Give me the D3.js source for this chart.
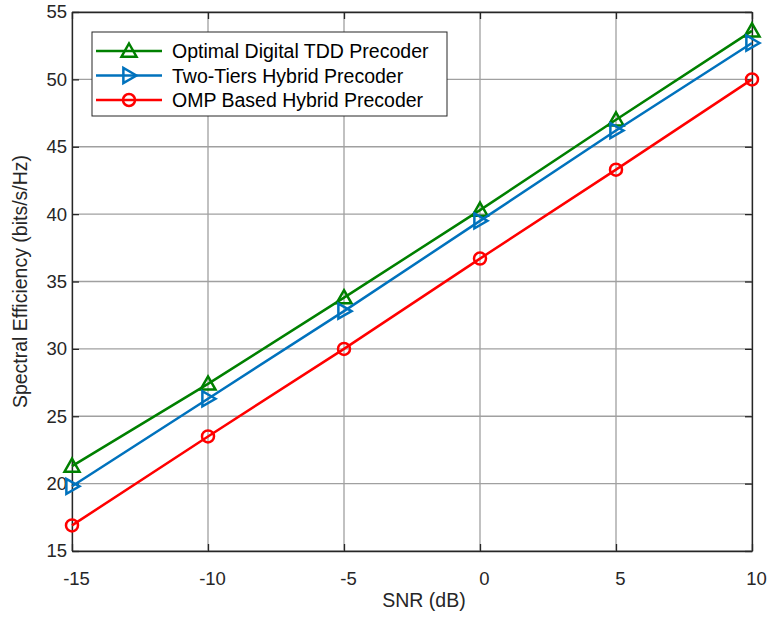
<!DOCTYPE html>
<html>
<head>
<meta charset="utf-8">
<script src="https://cdn.jsdelivr.net/npm/d3@7"></script>
<style>
  body { margin: 0; background: #fff; }
  text { font-family: "Liberation Sans", Arial, sans-serif; fill: #262626; }
</style>
</head>
<body>
<div id="chart"></div>
<script>
// SNR values (x) and spectral efficiency of each precoder
var snr = [-15, -10, -5, 0, 5, 10];
var optimalTdd = [21.3, 27.4, 33.8, 40.3, 47.0, 53.6];
var twoTiers   = [19.8, 26.3, 32.8, 39.5, 46.2, 52.7];
var ompHybrid  = [16.9, 23.5, 30.0, 36.7, 43.3, 50.0];

var xTicks = [-15, -10, -5, 0, 5, 10];
var yTicks = [15, 20, 25, 30, 35, 40, 45, 50, 55];

var seriesNames = ["Optimal Digital TDD Precoder", "Two-Tiers Hybrid Precoder", "OMP Based Hybrid Precoder"];
var seriesColors = ["#008000", "#0072BD", "#FF0000"];
var seriesMarkers = ["triangle", "right", "circle"];
var seriesValues = [optimalTdd, twoTiers, ompHybrid];

var width = 770, height = 619;
var margin = { left: 72, right: 18, top: 12, bottom: 68 };

var svg = d3.select("#chart").append("svg")
    .attr("width", width).attr("height", height);

var xScale = d3.scaleLinear().domain([-15, 10])
    .range([margin.left, width - margin.right]);
var yScale = d3.scaleLinear().domain([15, 55])
    .range([height - margin.bottom, margin.top]);

// grid lines
svg.append("g").selectAll("line.vgrid")
    .data(xTicks).enter().append("line")
    .attr("x1", function(d) { return xScale(d); })
    .attr("x2", function(d) { return xScale(d); })
    .attr("y1", yScale(15)).attr("y2", yScale(55))
    .attr("stroke", "#a0a0a0").attr("stroke-width", 1.3);
svg.append("g").selectAll("line.hgrid")
    .data(yTicks).enter().append("line")
    .attr("y1", function(d) { return yScale(d); })
    .attr("y2", function(d) { return yScale(d); })
    .attr("x1", xScale(-15)).attr("x2", xScale(10))
    .attr("stroke", "#a0a0a0").attr("stroke-width", 1.3);

// plain hyphen for negatives, like the original figure
var fmt = function(d) { return String(d); };

// axes (inner ticks on all four sides)
var tickLen = 7;
svg.append("g")
    .attr("transform", "translate(0," + yScale(15) + ")")
    .call(d3.axisBottom(xScale).tickValues(xTicks).tickFormat(fmt)
          .tickSizeInner(-tickLen).tickSizeOuter(0).tickPadding(21))
    .call(styleAxis)
    .selectAll(".tick text").attr("dx", 4);
svg.append("g")
    .attr("transform", "translate(" + xScale(-15) + ",0)")
    .call(d3.axisLeft(yScale).tickValues(yTicks).tickFormat(fmt)
          .tickSizeInner(-tickLen).tickSizeOuter(0).tickPadding(5))
    .call(styleAxis);
svg.append("g")
    .attr("transform", "translate(0," + yScale(55) + ")")
    .call(d3.axisTop(xScale).tickValues(xTicks).tickSizeInner(-tickLen).tickSizeOuter(0).tickFormat(""))
    .call(styleAxis);
svg.append("g")
    .attr("transform", "translate(" + xScale(10) + ",0)")
    .call(d3.axisRight(yScale).tickValues(yTicks).tickSizeInner(-tickLen).tickSizeOuter(0).tickFormat(""))
    .call(styleAxis);

function styleAxis(g) {
    g.select(".domain").attr("stroke", "#262626").attr("stroke-width", 1.3);
    g.selectAll(".tick line").attr("stroke", "#262626").attr("stroke-width", 1.3);
    g.selectAll(".tick text").attr("font-size", "18.5px").attr("fill", "#262626")
        .style("font-family", "'Liberation Sans', Arial, sans-serif");
}

// axis labels
svg.append("text")
    .attr("x", (xScale(-15) + xScale(10)) / 2 + 12)
    .attr("y", 607)
    .attr("text-anchor", "middle")
    .attr("font-size", "19.5px")
    .text("SNR (dB)");
svg.append("text")
    .attr("transform", "translate(27," + ((yScale(15) + yScale(55)) / 2) + ") rotate(-90)")
    .attr("text-anchor", "middle")
    .attr("font-size", "19.5px")
    .text("Spectral Efficiency (bits/s/Hz)");

// marker drawing
function drawMarker(g, type, color, x, y) {
    if (type === "circle") {
        g.append("circle").attr("cx", x).attr("cy", y).attr("r", 6)
            .attr("fill", "none").attr("stroke", color).attr("stroke-width", 2.5);
    } else if (type === "triangle") {
        var s = 7.5;
        g.append("path")
            .attr("d", "M" + x + "," + (y - s) + "L" + (x + s) + "," + (y + s * 0.75) + "L" + (x - s) + "," + (y + s * 0.75) + "Z")
            .attr("fill", "none").attr("stroke", color).attr("stroke-width", 2.5);
    } else {
        var r = 7.5;
        g.append("path")
            .attr("d", "M" + (x + r) + "," + y + "L" + (x - r * 0.75) + "," + (y - r) + "L" + (x - r * 0.75) + "," + (y + r) + "Z")
            .attr("fill", "none").attr("stroke", color).attr("stroke-width", 2.5);
    }
}

// series lines and markers
var line = d3.line()
    .x(function(d, i) { return xScale(snr[i]); })
    .y(function(d) { return yScale(d); });

seriesValues.forEach(function(vals, k) {
    var g = svg.append("g");
    g.append("path").datum(vals)
        .attr("d", line)
        .attr("fill", "none")
        .attr("stroke", seriesColors[k])
        .attr("stroke-width", 2.5);
    vals.forEach(function(v, i) {
        drawMarker(g, seriesMarkers[k], seriesColors[k], xScale(snr[i]), yScale(v));
    });
});

// legend
var legend = svg.append("g");
legend.append("rect")
    .attr("x", 92).attr("y", 32).attr("width", 355).attr("height", 84)
    .attr("fill", "#fff").attr("stroke", "#262626").attr("stroke-width", 1);
seriesNames.forEach(function(name, k) {
    var y = 51 + k * 24.5;
    legend.append("line")
        .attr("x1", 96).attr("x2", 162).attr("y1", y).attr("y2", y)
        .attr("stroke", seriesColors[k]).attr("stroke-width", 2.5);
    drawMarker(legend, seriesMarkers[k], seriesColors[k], 129, y);
    legend.append("text")
        .attr("x", 172).attr("y", y + 7)
        .attr("font-size", "19.5px")
        .style("fill", "#000")
        .text(name);
});
</script>
</body>
</html>
